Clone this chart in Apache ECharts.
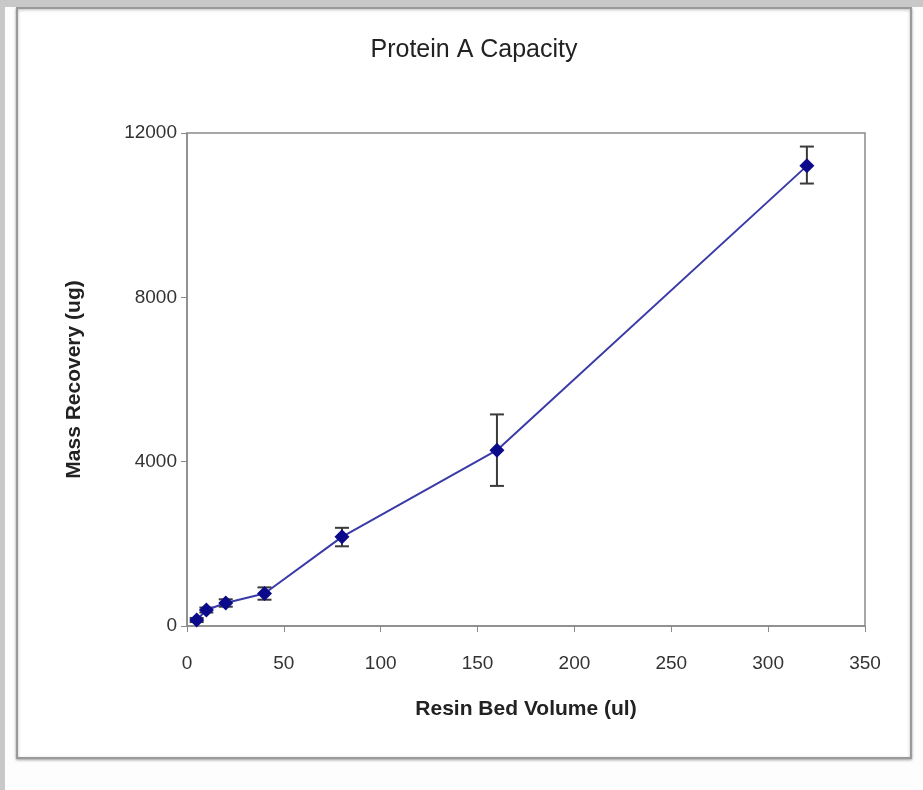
<!DOCTYPE html>
<html>
<head>
<meta charset="utf-8">
<script src="https://cdn.jsdelivr.net/npm/echarts@6/dist/echarts.min.js"></script>
<style>
html,body{margin:0;padding:0;background:#fff;}
#main{width:923px;height:790px;}
</style>
</head>
<body>
<div id="main"></div>
<script>
// data
var volume = [5, 10, 20, 40, 80, 160, 320];
var mass = [146, 389, 560, 790, 2170, 4280, 11200];
var errLow = [50, 60, 90, 150, 230, 870, 430];
var errHigh = [50, 60, 90, 150, 220, 870, 470];

var points = volume.map(function(v, i){ return [v, mass[i]]; });
var bars = volume.map(function(v, i){ return [v, mass[i] - errLow[i], mass[i] + errHigh[i]]; });

var myChart = echarts.init(document.getElementById('main'));
var option = {
    backgroundColor: '#fdfdfd',
    animation: false,
    title: {
        text: 'Protein A Capacity',
        left: 469,
        top: 33,
        textAlign: 'center',
        textStyle: { fontFamily: 'Liberation Sans', fontSize: 25, fontWeight: 'normal', color: '#222' }
    },
    graphic: [
        { type: 'rect', shape: { x: 0, y: 0, width: 923, height: 7 }, style: { fill: '#c8c8c8' }, silent: true },
        { type: 'rect', shape: { x: 0, y: 0, width: 5, height: 790 }, style: { fill: '#c8c8c8' }, silent: true },
        { type: 'rect', z: -1, shape: { x: 17, y: 8, width: 894, height: 750 },
          style: { fill: '#fff', stroke: '#9a9a9a', lineWidth: 2, shadowBlur: 3, shadowColor: 'rgba(0,0,0,0.3)', shadowOffsetY: 1 }, silent: true },
        { type: 'rect', z: 1, shape: { x: 187, y: 133, width: 678, height: 493 },
          style: { fill: 'none', stroke: '#8a8a8a', lineWidth: 1.5 }, silent: true }
    ],
    grid: { left: 187, top: 133, right: 58, bottom: 164 },
    xAxis: {
        type: 'value',
        min: 0, max: 350, interval: 50,
        name: 'Resin Bed Volume (ul)',
        nameLocation: 'middle',
        nameGap: 73,
        nameTextStyle: { fontFamily: 'Liberation Sans', fontSize: 21, fontWeight: 'bold', color: '#222' },
        axisLine: { show: true, lineStyle: { color: '#8a8a8a', width: 1.5 } },
        axisTick: { show: true, length: 6, lineStyle: { color: '#8a8a8a' } },
        axisLabel: { fontFamily: 'Liberation Sans', fontSize: 19, color: '#333', margin: 28 },
        splitLine: { show: false }
    },
    yAxis: {
        type: 'value',
        min: 0, max: 12000, interval: 4000,
        name: 'Mass Recovery (ug)',
        nameLocation: 'middle',
        nameGap: 102,
        nameTextStyle: { fontFamily: 'Liberation Sans', fontSize: 21, fontWeight: 'bold', color: '#222' },
        axisLine: { show: true, lineStyle: { color: '#8a8a8a', width: 1.5 } },
        axisTick: { show: true, length: 6, lineStyle: { color: '#8a8a8a' } },
        axisLabel: { fontFamily: 'Liberation Sans', fontSize: 19, color: '#333', margin: 10,
                     formatter: function(v){ return String(v); } },
        splitLine: { show: false }
    },
    series: [
        {
            type: 'line',
            data: points,
            symbol: 'diamond',
            symbolSize: 15,
            itemStyle: { color: '#0a0a8a' },
            lineStyle: { color: '#3a3aa8', width: 2 },
            z: 3
        },
        {
            type: 'custom',
            data: bars,
            z: 2,
            renderItem: function(params, api){
                var x = api.value(0);
                var lo = api.coord([x, api.value(1)]);
                var hi = api.coord([x, api.value(2)]);
                var w = 7;
                var st = { stroke: '#3a3a3a', lineWidth: 2 };
                return {
                    type: 'group',
                    children: [
                        { type: 'line', shape: { x1: lo[0], y1: lo[1], x2: hi[0], y2: hi[1] }, style: st },
                        { type: 'line', shape: { x1: lo[0] - w, y1: lo[1], x2: lo[0] + w, y2: lo[1] }, style: st },
                        { type: 'line', shape: { x1: hi[0] - w, y1: hi[1], x2: hi[0] + w, y2: hi[1] }, style: st }
                    ]
                };
            }
        }
    ]
};
myChart.setOption(option);
</script>
</body>
</html>
